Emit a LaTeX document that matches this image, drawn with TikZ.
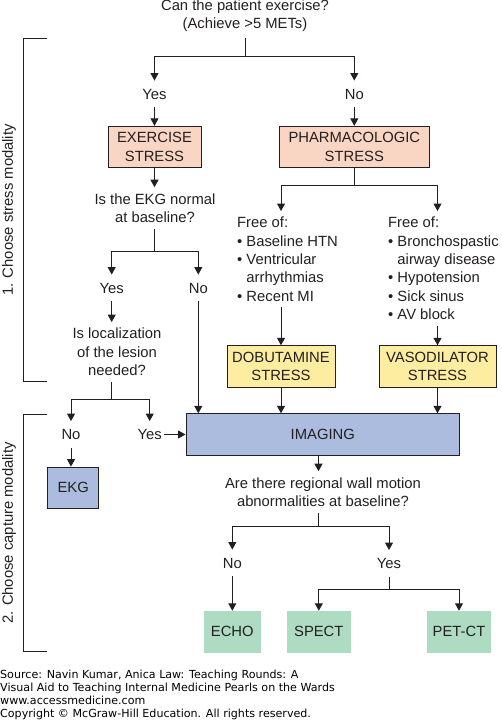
\documentclass[tikz,border=0pt]{standalone}
\usepackage{fontspec}
\setmainfont{Liberation Sans}
\newfontfamily\srcfont{DejaVu Sans}
\usepackage{tikz}
\usetikzlibrary{arrows.meta, positioning}

\definecolor{stressred}{HTML}{F9D5C3}
\definecolor{drugyellow}{HTML}{FDEDA0}
\definecolor{imgblue}{HTML}{ABBCDE}
\definecolor{modgreen}{HTML}{AEDCC2}
\definecolor{inkgray}{HTML}{231F20}

\begin{document}
\begin{tikzpicture}[
    x=1pt, y=-1pt,
    font=\fontsize{14.8}{18.3}\selectfont,
    every node/.style={text=inkgray},
    box/.style={draw=inkgray, line width=0.9pt, rectangle, minimum height=41.5pt, align=center, inner sep=2pt},
    modbox/.style={rectangle, fill=modgreen, minimum height=41.7pt, align=center, inner sep=2pt},
    question/.style={align=center, inner sep=6pt},
    answer/.style={text height=10.5pt, text depth=0pt, inner xsep=2pt, inner ysep=8pt},
    freelist/.style={align=left, anchor=north west, inner xsep=0pt, inner ysep=6pt},
    link/.style={draw=inkgray, line width=1pt},
    arrow/.style={link, -{Triangle[width=8pt,length=7.5pt]}}
]
\useasboundingbox (0,0) rectangle (502,720);

\node[question] (canex) at (245,16) {Can the patient exercise?\\(Achieve >5 METs)};
\node[answer] (yes1) at (154.5,94) {Yes};
\node[answer] (no1) at (354.3,94) {No};

\node[box, fill=stressred, minimum width=93pt] (exer) at (154.5,147) {EXERCISE\\STRESS};
\node[box, fill=stressred, minimum width=150pt] (pharm) at (354.3,147) {PHARMACOLOGIC\\STRESS};

\node[question] (ekgnorm) at (155,208) {Is the EKG normal\\at baseline?};
\node[freelist] (free1) at (237,211) {Free of:\\\textbullet\ Baseline HTN\\\textbullet\ Ventricular\\\hphantom{\textbullet\ }arrhythmias\\\textbullet\ Recent MI};
\node[freelist] (free2) at (388,211) {Free of:\\\textbullet\ Bronchospastic\\\hphantom{\textbullet\ }airway disease\\\textbullet\ Hypotension\\\textbullet\ Sick sinus\\\textbullet\ AV block};

\node[answer] (yes2) at (111.7,288) {Yes};
\node[answer] (no2) at (198.3,288) {No};
\node[question] (lesion) at (117,352) {Is localization\\of the lesion\\needed?};

\node[box, fill=drugyellow, minimum width=108pt] (dobu) at (281,366.5) {DOBUTAMINE\\STRESS};
\node[box, fill=drugyellow, minimum width=117pt] (vaso) at (437.5,366.5) {VASODILATOR\\STRESS};

\node[answer] (no3) at (71,434.5) {No};
\node[answer] (yes3) at (149.7,434.5) {Yes};
\node[box, fill=imgblue, minimum width=273.7pt] (imaging) at (322.8,434.5) {IMAGING};
\node[box, fill=imgblue, minimum width=51pt] (ekg) at (73.2,487.8) {EKG};

\node[question] (wallq) at (323,492) {Are there regional wall motion\\abnormalities at baseline?};
\node[answer] (no4) at (232.3,563) {No};
\node[answer] (yes4) at (389,563.5) {Yes};

\node[modbox, minimum width=56.7pt] (echo) at (232.3,631.8) {ECHO};
\node[modbox, minimum width=63.7pt] (spect) at (318.8,631.8) {SPECT};
\node[modbox, minimum width=64pt] (petct) at (459,631.8) {PET-CT};

\node[rotate=90] (stresslbl) at (9,210) {1. Choose stress modality};
\node[rotate=90] (capturelbl) at (9,533) {2. Choose capture modality};
\draw[link] (46.7,38.3) -| (23.3,381) -- (46.7,381);
\draw[link] (46.7,414) -| (23.3,651.7) -- (46.7,651.7);

\node[anchor=north west, inner sep=0pt, align=left, text=black, font=\srcfont\fontsize{11.1}{13.2}\selectfont] (source) at (0,669.5) {Source: Navin Kumar, Anica Law: Teaching Rounds: A\\Visual Aid to Teaching Internal Medicine Pearls on the Wards\\www.accessmedicine.com\\Copyright \textcopyright\ McGraw-Hill Education. All rights reserved.};

\coordinate (s1) at (245,56);
\draw[link] (canex) -- (s1);
\draw[arrow] (s1) -| (yes1);
\draw[arrow] (s1) -| (no1);
\draw[arrow] (yes1) -- (exer);
\draw[arrow] (no1) -- (pharm);

\draw[arrow] (exer) -- (exer |- ekgnorm.north);
\coordinate (s2) at (154.5,251.7);
\draw[link] (ekgnorm.south -| s2) -- (s2);
\draw[arrow] (s2) -| (yes2);
\draw[arrow] (s2) -| (no2);

\coordinate (s3) at (354.3,185.3);
\draw[link] (pharm) -- (s3);
\draw[arrow] (s3) -| (dobu |- free1.north);
\draw[arrow] (s3) -| (vaso |- free2.north);
\draw[arrow] (free1.south -| dobu) -- (dobu);
\draw[arrow] (free2.south -| vaso) -- (vaso);

\draw[arrow] (yes2) -- (yes2 |- lesion.north);
\coordinate (s4) at (111.7,399.3);
\draw[link] (lesion.south -| s4) -- (s4);
\draw[arrow] (s4) -| (no3);
\draw[arrow] (s4) -| (yes3);
\draw[arrow] (no3) -- (no3 |- ekg.north);
\draw[arrow] (yes3) -- (imaging);

\draw[arrow] (no2) -- (no2 |- imaging.north);
\draw[arrow] (dobu) -- (dobu |- imaging.north);
\draw[arrow] (vaso) -- (vaso |- imaging.north);

\coordinate (s5) at (318.5,526.7);
\draw[arrow] (imaging.south -| s5) -- (s5 |- wallq.north);
\draw[link] (wallq.south -| s5) -- (s5);
\draw[arrow] (s5) -| (no4);
\draw[arrow] (s5) -| (yes4);
\draw[arrow] (no4) -- (echo);

\coordinate (s6) at (389,589.3);
\draw[link] (yes4) -- (s6);
\draw[arrow] (s6) -| (spect);
\draw[arrow] (s6) -| (petct);

\end{tikzpicture}
\end{document}
